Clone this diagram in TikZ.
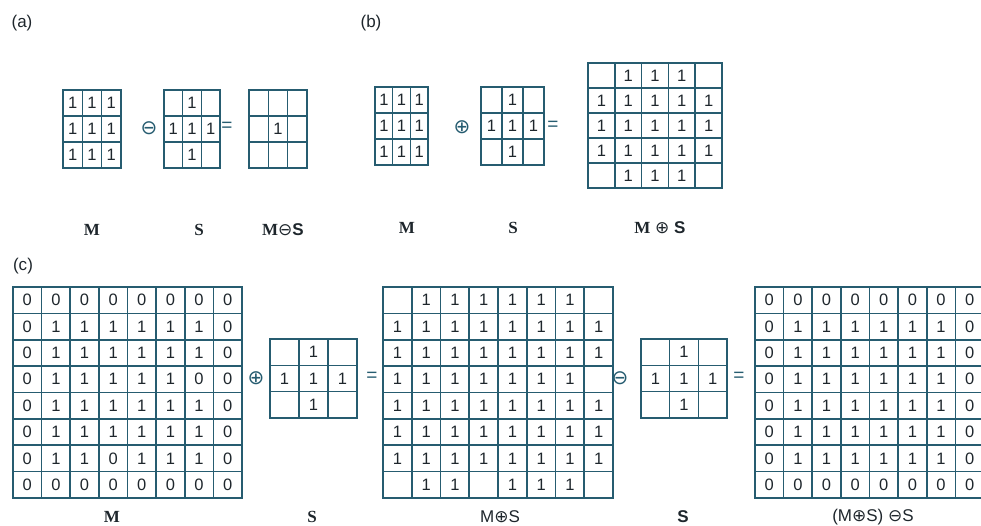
\documentclass[tikz,border=0pt]{standalone}
\usepackage{fontspec}
\setmainfont{Liberation Sans}
\newfontfamily\serifl{Liberation Serif}
\newfontfamily\symf{DejaVu Sans}
\usetikzlibrary{calc}
\definecolor{gline}{RGB}{38,92,112}
\definecolor{txt}{RGB}{30,38,44}
\tikzset{
  gbox/.style={draw=gline, line width=1.6pt, inner sep=0pt, outer sep=0pt},
  gl/.style={draw=gline, line width=1.6pt},
  cellnum/.style={text=txt, font=\fontsize{16.5}{16.5}\selectfont, inner sep=0pt},
  panel/.style={text=txt, font=\fontsize{17}{17}\selectfont, inner sep=0pt},
  oplab/.style={text=txt, font=\serifl\bfseries\fontsize{17}{17}\selectfont, inner sep=0pt},
  oplabs/.style={text=txt, font=\fontsize{17}{17}\selectfont, inner sep=0pt},
  opsym/.style={text=gline, font=\symf\fontsize{20}{20}\selectfont, inner sep=0pt},
  eqsym/.style={text=gline, font=\fontsize{19}{19}\selectfont, inner sep=0pt},
}
% #1 name, #2 x0, #3 y0, #4 x1, #5 y1, #6 ncols, #7 nrows, #8 rows (2 = blank)
\newcommand\mkgrid[8]{%
  \pgfmathsetmacro\gw{#4-#2}%
  \pgfmathsetmacro\gh{#5-#3}%
  \pgfmathsetmacro\cw{(#4-#2)/#6}%
  \pgfmathsetmacro\ch{(#5-#3)/#7}%
  \pgfmathtruncatemacro\ncm{#6-1}%
  \pgfmathtruncatemacro\nrm{#7-1}%
  \node[gbox, minimum width=\gw pt, minimum height=\gh pt, anchor=north west] (#1) at (#2,#3) {};
  \foreach \ii in {1,...,\ncm} {\draw[gl] ({#2+\ii*\cw},#3) -- ({#2+\ii*\cw},#5);}
  \foreach \ii in {1,...,\nrm} {\draw[gl] (#2,{#3+\ii*\ch}) -- (#4,{#3+\ii*\ch});}
  \foreach \rowlist [count=\ri] in {#8} {
    \foreach \vv [count=\ci] in \rowlist {
      \node[cellnum] (#1-\ri-\ci) at ({#2+(\ci-0.5)*\cw},{#3+(\ri-0.5)*\ch}) {\ifnum\vv=2 \else\vv\fi};
    }
  }
}
\begin{document}
\begin{tikzpicture}[x=1pt,y=-1pt]
\useasboundingbox (0,0) rectangle (981,526);
\clip (0,0) rectangle (981,526);
% ---------- (a) ----------
\node[panel] (la) at (22,23) {(a)};
\mkgrid{aM}{63}{90}{121}{168}{3}{3}{{1,1,1},{1,1,1},{1,1,1}}
\node[opsym] (aop) at (149,128) {⊖};
\mkgrid{aS}{164}{90}{220}{168}{3}{3}{{2,1,2},{1,1,1},{2,1,2}}
\node[eqsym] (aeq) at (227,127) {=};
\mkgrid{aR}{249}{90}{307}{168}{3}{3}{{2,2,2},{2,1,2},{2,2,2}}
\node[oplab] (aLM) at (92,230) {M};
\node[oplab] (aLS) at (199,230) {S};
\node[oplabs] (aLR) at (283,230) {{\serifl\bfseries M}{\symf ⊖}\textbf{S}};
% ---------- (b) ----------
\node[panel] (lb) at (371,23) {(b)};
\mkgrid{bM}{375}{87}{428}{165}{3}{3}{{1,1,1},{1,1,1},{1,1,1}}
\node[opsym] (bop) at (462,127) {⊕};
\mkgrid{bS}{481}{87}{544}{165}{3}{3}{{2,1,2},{1,1,1},{2,1,2}}
\node[eqsym] (beq) at (553,126) {=};
\mkgrid{bR}{588}{63}{722}{188}{5}{5}{{2,1,1,1,2},{1,1,1,1,1},{1,1,1,1,1},{1,1,1,1,1},{2,1,1,1,2}}
\node[oplab] (bLM) at (407,228) {M};
\node[oplab] (bLS) at (513,228) {S};
\node[oplabs] (bLR) at (660,228) {{\serifl\bfseries M} {\symf ⊕} \textbf{S}};
% ---------- (c) ----------
\node[panel] (lc) at (23,266) {(c)};
\mkgrid{cM}{13}{287}{242}{498}{8}{8}{{0,0,0,0,0,0,0,0},{0,1,1,1,1,1,1,0},{0,1,1,1,1,1,1,0},{0,1,1,1,1,1,0,0},{0,1,1,1,1,1,1,0},{0,1,1,1,1,1,1,0},{0,1,1,0,1,1,1,0},{0,0,0,0,0,0,0,0}}
\node[opsym] (cop1) at (256,378) {⊕};
\mkgrid{cS1}{270}{339}{357}{418}{3}{3}{{2,1,2},{1,1,1},{2,1,2}}
\node[eqsym] (ceq1) at (372,377) {=};
\mkgrid{cD}{383}{287}{613}{498}{8}{8}{{2,1,1,1,1,1,1,2},{1,1,1,1,1,1,1,1},{1,1,1,1,1,1,1,1},{1,1,1,1,1,1,1,2},{1,1,1,1,1,1,1,1},{1,1,1,1,1,1,1,1},{1,1,1,1,1,1,1,1},{2,1,1,2,1,1,1,2}}
\node[opsym] (cop2) at (620,378) {⊖};
\mkgrid{cS2}{641}{339}{727}{418}{3}{3}{{2,1,2},{1,1,1},{2,1,2}}
\node[eqsym] (ceq2) at (739,377) {=};
\mkgrid{cR}{755}{287}{984}{498}{8}{8}{{0,0,0,0,0,0,0,0},{0,1,1,1,1,1,1,0},{0,1,1,1,1,1,1,0},{0,1,1,1,1,1,1,0},{0,1,1,1,1,1,1,0},{0,1,1,1,1,1,1,0},{0,1,1,1,1,1,1,0},{0,0,0,0,0,0,0,0}}
\node[oplab] (cLM) at (112,517) {M};
\node[oplab] (cLS1) at (312,517) {S};
\node[oplabs] (cLD) at (500,517) {M{\symf ⊕}S};
\node[oplabs] (cLS2) at (683,517) {\textbf{S}};
\node[oplabs] (cLR) at (873,517) {(M{\symf ⊕}S) {\symf ⊖}S};
\end{tikzpicture}
\end{document}
